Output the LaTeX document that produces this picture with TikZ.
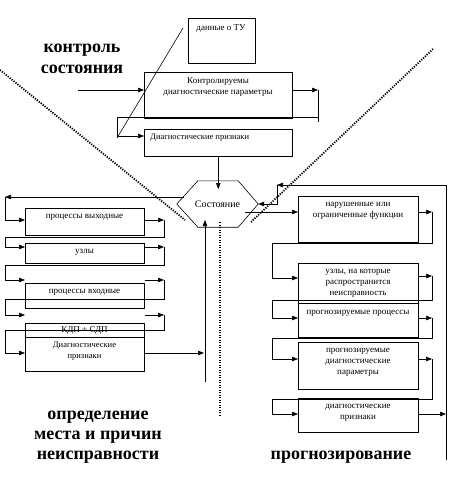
\documentclass[tikz,border=0pt]{standalone}
\usepackage{fontspec}
\setmainfont{Liberation Serif}
\usetikzlibrary{arrows.meta,calc}
\begin{document}
\begin{tikzpicture}[x=1pt,y=-1pt,
  box/.style={draw, line width=0.6pt, inner sep=0pt, anchor=north west},
  lbl/.style={font=\fontsize{9}{11}\selectfont, align=center, inner sep=0pt},
  sml/.style={font=\fontsize{8.5}{11}\selectfont, align=center, inner sep=0pt},
  big/.style={font=\fontsize{18}{21}\selectfont\bfseries, align=center, inner sep=0pt},
  ln/.style={line width=0.6pt},
  arr/.style={line width=0.6pt, -{Triangle[length=6pt,width=4.5pt]}},
  dots/.style={line width=1.8pt, dash pattern=on 1.2pt off 1.3pt},
]
\useasboundingbox (0,0) rectangle (452,489);

% boxes
\node[box, minimum width=67pt, minimum height=45pt] (tu) at (188,18) {};
\node[box, minimum width=148pt, minimum height=46pt] (kp) at (144,72) {};
\node[box, minimum width=148pt, minimum height=27pt] (dp) at (144,129) {};
\node[box, minimum width=119pt, minimum height=27pt] (L1) at (25,208) {};
\node[box, minimum width=119pt, minimum height=20pt] (L2) at (25,243) {};
\node[box, minimum width=119pt, minimum height=25pt] (L3) at (25,283) {};
\node[box, minimum width=119pt, minimum height=48pt] (L4) at (25,323) {};
\node[box, minimum width=120pt, minimum height=46pt] (R1) at (298,196) {};
\node[box, minimum width=120pt, minimum height=40pt] (R2) at (298,263) {};
\node[box, minimum width=120pt, minimum height=34pt] (R3) at (298,303) {};
\node[box, minimum width=120pt, minimum height=47pt] (R4) at (298,342) {};
\node[box, minimum width=120pt, minimum height=34pt] (R5) at (298,398) {};
\draw[ln] (L4.west |- 0,337) -- (L4.east |- 0,337);

% hexagon
\node[minimum width=81pt, minimum height=46pt, inner sep=0pt, font=\fontsize{10}{12}\selectfont] (hex) at (217.5,204) {Состояние};
\draw[ln] (hex.west) -- ($(hex.north west)+(21,0)$) -- ($(hex.north east)+(-20,0)$) -- (hex.east)
  -- ($(hex.south east)+(-20,0)$) -- ($(hex.south west)+(21,0)$) -- cycle;

% texts
\node[lbl] (tut) at (221,28) {данные о ТУ};
\node[lbl] (kpt) at (218,87.5) {Контролируемы\\диагностические параметры};
\node[sml, anchor=west] (dpt) at (150,138) {Диагностические признаки};
\node[lbl] (L1t) at (84.5,217) {процессы выходные};
\node[lbl] (L2t) at (84.5,252) {узлы};
\node[lbl] (L3t) at (84.5,292) {процессы входные};
\node[lbl] (L4a) at (84.5,330) {КДП + СДП};
\node[sml] (L4b) at (84.5,351.5) {Диагностические\\признаки};
\node[lbl] (R1t) at (358,211) {нарушенные или\\ограниченные функции};
\node[lbl] (R2t) at (358,283) {узлы, на которые\\распространится\\неисправность};
\node[lbl] (R3t) at (358,313) {прогнозируемые процессы};
\node[lbl] (R4t) at (358,362) {прогнозируемые\\диагностические\\параметры};
\node[lbl] (R5t) at (358,413) {диагностические\\признаки};

\node[big] (T1) at (82,59) {контроль\\состояния};
\node[big, font=\fontsize{18}{20}\selectfont\bfseries] (T2) at (98,437) {определение\\места и причин\\неисправности};
\node[big] (T3) at (341,457) {прогнозирование};

% dotted separators
\draw[dots] (0,70) -- (185,220);
\draw[dots] (433,49) -- (251,222);
\draw[dots] (220,222) -- (220,415);

% top connectors
\coordinate (kin) at (78,90);
\draw[arr] (kin) -- (kp.west |- kin);
\draw[arr] (kp.east |- 0,90) -- (318,90);
\draw[ln] (318,90) -- (318,122);
\draw[arr] (318,117) -- (117,117) -- (117,136) -- (dp.west |- 0,136);
\draw[ln] (117,138) -- (183,28);
\draw[arr] (dp.south) -- (dp.south |- 0,189);

% left connectors
\coordinate (hl) at (184,197);
\draw[arr] (hl) -- (5,197);
\draw[arr] (5,197) -- (5,220) -- (L1.west |- 0,220);
\draw[arr] (L1.east |- 0,220) -- (164,220);
\draw[arr] (164,220) -- (164,237) -- (5,237) -- (5,247) -- (L2.west |- 0,247);
\draw[arr] (L2.east |- 0,247) -- (164,247);
\draw[arr] (164,247) -- (164,265) -- (5,265) -- (5,280) -- (L3.west |- 0,280);
\draw[arr] (L3.east |- 0,280) -- (164,280);
\draw[arr] (164,280) -- (164,299) -- (5,299) -- (5,315) -- (L3.west |- 0,315);
\draw[arr] (L3.east |- 0,315) -- (164,315);
\draw[arr] (164,315) -- (164,330) -- (5,330) -- (5,353) -- (L4.west |- 0,353);
\draw[arr] (L4.east |- 0,353) -- (204,353);
\draw[arr] (205,382) -- (205,220);

% right connectors
\coordinate (hr) at (245,212);
\draw[arr] (hr) -- (R1.west |- hr);
\draw[arr] (446,185) -- (277,185);
\draw[arr] (277,185) -- (277,204) -- (hex.east);
\draw[ln] (446,185) -- (446,460);
\draw[arr] (R1.east |- 0,212) -- (432,212);
\draw[arr] (432,212) -- (432,243) -- (272,243) -- (272,278) -- (R2.west |- 0,278);
\draw[arr] (R2.east |- 0,276) -- (432,276);
\draw[arr] (432,276) -- (432,300) -- (272,300) -- (272,318) -- (R3.west |- 0,318);
\draw[arr] (R3.east |- 0,318) -- (432,318);
\draw[arr] (432,318) -- (432,338) -- (272,338) -- (272,359) -- (R4.west |- 0,359);
\draw[arr] (R4.east |- 0,359) -- (432,359);
\draw[arr] (432,359) -- (432,399) -- (272,399) -- (272,414) -- (R5.west |- 0,414);
\draw[arr] (R5.east |- 0,414) -- (446,414);
\end{tikzpicture}
\end{document}
